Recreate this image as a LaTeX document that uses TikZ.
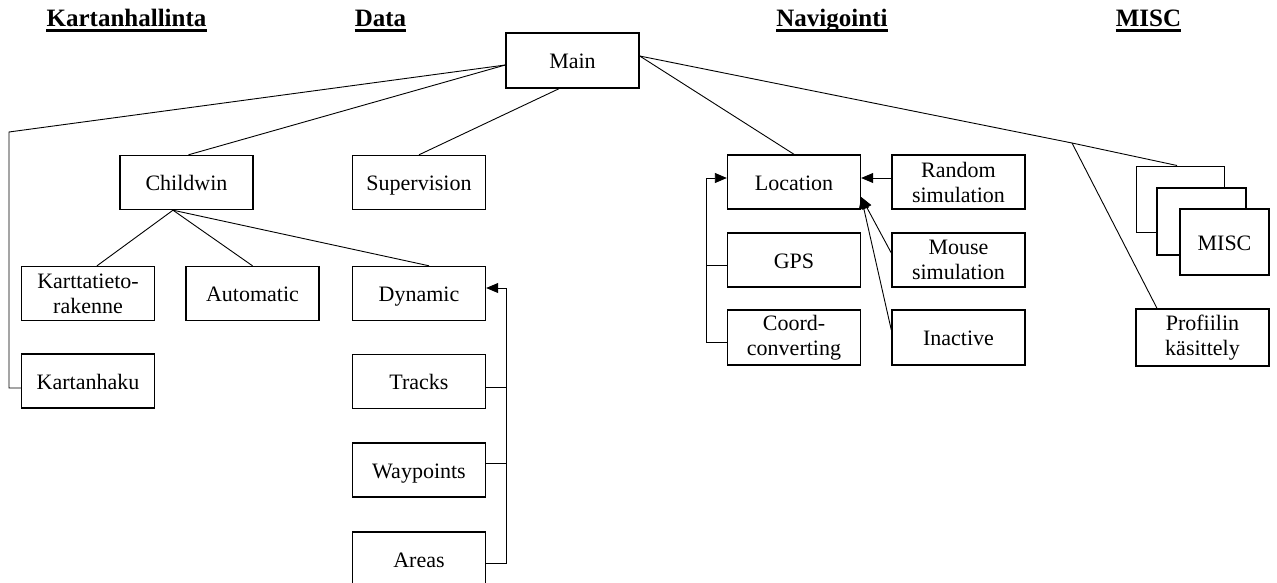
\documentclass[tikz,border=0pt]{standalone}
\usepackage{fontspec}
\setmainfont{Liberation Serif}
\usetikzlibrary{arrows.meta,calc}
\begin{document}
\begin{tikzpicture}[x=1pt,y=-1pt,
  cell/.style={draw, line width=1.4pt, fill=white, minimum width=133pt, minimum height=54pt,
              inner sep=0pt, align=center, font=\fontsize{22}{25}\selectfont},
  box/.style={cell, text height=16pt, text depth=0pt},
  pair/.style={cell},
  head/.style={anchor=base, inner sep=0pt, font=\fontsize{25}{28}\selectfont\bfseries},
  uline/.style={line width=2.5pt},
  link/.style={line width=0.9pt},
  tip/.style={link, -{Triangle[length=12pt,width=10pt]}}]
\fill[white] (0,0) rectangle (1277,583);
\path[use as bounding box, clip] (0,0) rectangle (1277,583);

% column headings
\node[head] (hK) at (126.5,27) {Kartanhallinta};
\node[head] (hD) at (380.5,27) {Data};
\node[head] (hN) at (832,27) {Navigointi};
\node[head] (hM) at (1148.5,27) {MISC};
\foreach \h in {hK,hD,hN,hM}
  \draw[uline] ([yshift=-3.5pt]\h.base west) -- ([yshift=-3.5pt]\h.base east);

% modules
\node[box, minimum height=55pt] (main) at (572.5,60.5) {Main};
\node[box] (childwin) at (186.5,182.5) {Childwin};
\node[box] (supervision) at (419,182.5) {Supervision};
\node[pair] (kartta) at (88,293.5) {Karttatieto-\\rakenne};
\node[box] (automatic) at (252.5,293.5) {Automatic};
\node[box] (dynamic) at (419,293.5) {Dynamic};
\node[box] (kartanhaku) at (88,381) {Kartanhaku};
\node[box] (tracks) at (419,381.5) {Tracks};
\node[box] (waypoints) at (419,470) {Waypoints};
\node[box] (areas) at (419,559) {Areas};
\node[box] (location) at (794,182) {Location};
\node[box] (gps) at (794,260) {GPS};
\node[pair, minimum height=55pt] (coord) at (794,337.5) {Coord-\\converting};
\node[pair] (random) at (958.5,182) {Random\\simulation};
\node[pair] (mouse) at (958.5,260) {Mouse\\simulation};
\node[box, minimum height=55pt] (inactive) at (958.5,337.5) {Inactive};

% stacked MISC windows
\node[box, line width=1pt, minimum width=88pt, minimum height=66pt] (miscA) at (1180,199) {};
\node[box, line width=2.5pt, minimum width=89pt, minimum height=67pt] (miscB) at (1201.5,221.5) {};
\node[box, minimum width=89pt, minimum height=66pt] (miscC) at (1224.5,242) {MISC};
\node[pair, minimum height=57pt] (profiili) at (1202.5,337.5) {Profiilin\\käsittely};

% links from Main
\coordinate (mL) at ([yshift=-4.5pt]main.west);
\coordinate (mR) at ([yshift=4.5pt]main.east);
\coordinate (kBend) at (9,132);
\coordinate (mBend) at (1072,143);
\draw[link] (mL) -- (kBend) |- ([yshift=-7pt]kartanhaku.west);
\draw[link] (mL) -- ([xshift=2pt]childwin.north);
\draw[link] ([xshift=-13.5pt]main.south) -- (supervision.north);
\draw[link] (mR) -- (location.north);
\draw[link] (mR) -- (mBend) -- ([xshift=-3pt]miscA.north);
\draw[link] (mBend) -- ([xshift=-45.5pt]profiili.north);

% links from Childwin
\coordinate (cB) at ([xshift=-13.5pt]childwin.south);
\draw[link] (cB) -- ([xshift=9pt]kartta.north);
\draw[link] (cB) -- (automatic.north);
\draw[link] (cB) -- ([xshift=10pt]dynamic.north);

% data items feeding Dynamic
\coordinate (dTop) at (506,288);
\draw[tip] ([yshift=-4pt]areas.east) -| (dTop) -- ([yshift=5.5pt]dynamic.east);
\draw[link] ([yshift=-5.5pt]tracks.east) -- ++(20.5,0);
\draw[link] ([yshift=7pt]waypoints.east) -- ++(20.5,0);

% location sources
\coordinate (nL) at (706,178);
\draw[tip] ([yshift=-4.5pt]coord.west) -| (nL) -- ([yshift=4pt]location.west);
\draw[link] ([yshift=-5pt]gps.west) -- ++(-21,0);
\draw[tip] ([yshift=4pt]random.west) -- ([yshift=4pt]location.east);
\coordinate (locTip) at ([yshift=-15pt]location.east);
\draw[tip] ([yshift=7pt]mouse.west) -- (locTip);
\draw[tip] ([yshift=7.5pt]inactive.west) -- (locTip);
\end{tikzpicture}
\end{document}
